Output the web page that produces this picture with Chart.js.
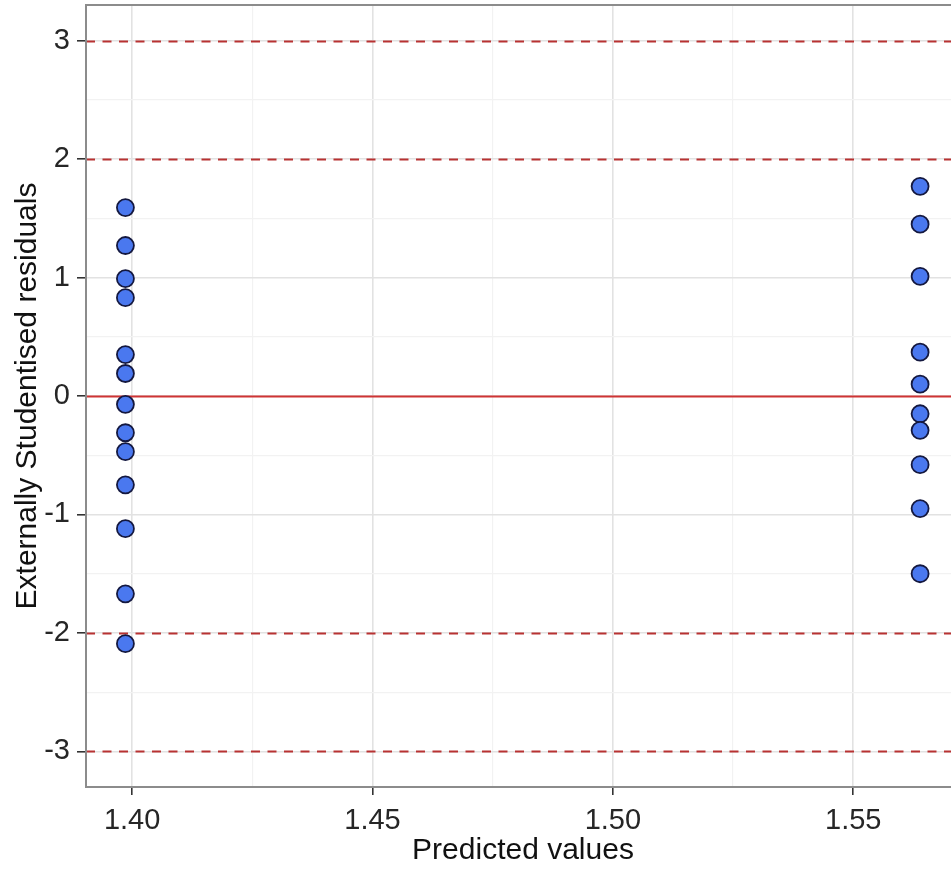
<!DOCTYPE html>
<html>
<head>
<meta charset="utf-8">
<script src="https://cdn.jsdelivr.net/npm/chart.js@4/dist/chart.umd.min.js"></script>
<style>
  html, body { margin: 0; padding: 0; overflow: hidden; background: #ffffff; }
  #wrap { width: 962px; height: 869px; }
</style>
</head>
<body>
<div id="wrap"><canvas id="resid" width="962" height="869"></canvas></div>
<script>
// Fitted values of the two groups and their externally studentised residuals
const fittedLevels = [1.3986, 1.5639];
const residualsLow = [1.59, 1.27, 0.99, 0.83, 0.35, 0.19, -0.07, -0.31, -0.47, -0.75, -1.12, -1.67, -2.09];
const residualsHigh = [1.77, 1.45, 1.01, 0.37, 0.10, -0.15, -0.29, -0.58, -0.95, -1.50];

// Axis ticks (major carry labels, minor only grid lines)
const xMajorTicks = [1.40, 1.45, 1.50, 1.55];
const xMinorTicks = [1.425, 1.475, 1.525];
const yMajorTicks = [-3, -2, -1, 0, 1, 2, 3];
const yMinorTicks = [-2.5, -1.5, -0.5, 0.5, 1.5, 2.5];

// Reference levels: solid at zero, dashed cut-offs
const zeroLevel = [0];
const cutoffLevels = [-3, -2, 2, 3];

const points = [];
residualsLow.forEach(r => points.push({ x: fittedLevels[0], y: r }));
residualsHigh.forEach(r => points.push({ x: fittedLevels[1], y: r }));

const isMajor = (v, list) => list.some(m => Math.abs(m - v) < 1e-9);
const mergeTicks = (a, b) => a.concat(b).sort((p, q) => p - q).map(v => ({ value: v }));

const FONT = "'Liberation Sans', Arial, sans-serif";

const refLines = {
  id: 'refLines',
  beforeDatasetsDraw(chart) {
    const { ctx, chartArea, scales: { y } } = chart;
    ctx.save();
    ctx.beginPath();
    ctx.rect(chartArea.left, chartArea.top, chartArea.right - chartArea.left, chartArea.bottom - chartArea.top);
    ctx.clip();
    ctx.lineWidth = 1.8;
    ctx.strokeStyle = '#b83232';
    ctx.setLineDash([9, 7.5]);
    cutoffLevels.forEach(v => {
      const py = Math.round(y.getPixelForValue(v)) + 0.5;
      ctx.beginPath();
      ctx.moveTo(chartArea.left, py);
      ctx.lineTo(chartArea.right, py);
      ctx.stroke();
    });
    ctx.setLineDash([]);
    ctx.strokeStyle = '#cf3434';
    zeroLevel.forEach(v => {
      const py = Math.round(y.getPixelForValue(v)) + 0.5;
      ctx.beginPath();
      ctx.moveTo(chartArea.left, py);
      ctx.lineTo(chartArea.right, py);
      ctx.stroke();
    });
    ctx.restore();
  },
  afterDraw(chart) {
    const { ctx, chartArea } = chart;
    ctx.save();
    ctx.lineWidth = 2;
    ctx.strokeStyle = '#8c8c8c';
    ctx.strokeRect(chartArea.left, chartArea.top, chartArea.right - chartArea.left, chartArea.bottom - chartArea.top);
    ctx.restore();
  }
};

new Chart(document.getElementById('resid'), {
  type: 'scatter',
  data: {
    datasets: [{
      data: points,
      backgroundColor: '#4a78ef',
      borderColor: '#14183f',
      borderWidth: 1.8,
      pointRadius: 8.5,
      pointHoverRadius: 8.5
    }]
  },
  options: {
    responsive: false,
    animation: false,
    devicePixelRatio: 1,
    layout: { autoPadding: false, padding: { top: 5, right: 2, left: 0, bottom: 0 } },
    plugins: { legend: { display: false }, tooltip: { enabled: false } },
    scales: {
      x: {
        type: 'linear',
        min: 1.3904,
        max: 1.5722,
        afterBuildTicks: s => { s.ticks = mergeTicks(xMajorTicks, xMinorTicks); },
        afterFit: s => { s.height = 82; s.paddingLeft = 0; s.paddingRight = 0; },
        border: { display: false },
        grid: {
          color: c => c.tick && isMajor(c.tick.value, xMajorTicks) ? '#e2e2e2' : '#f2f2f2',
          lineWidth: c => c.tick && isMajor(c.tick.value, xMajorTicks) ? 1.6 : 1.2,
          tickColor: c => c.tick && isMajor(c.tick.value, xMajorTicks) ? '#333333' : 'rgba(0,0,0,0)',
          tickWidth: 1.6,
          tickLength: 8,
          drawTicks: true
        },
        ticks: {
          autoSkip: false,
          maxRotation: 0,
          padding: 9,
          color: '#262626',
          font: { family: FONT, size: 29 },
          callback: v => isMajor(v, xMajorTicks) ? v.toFixed(2) : ''
        },
        title: {
          display: true,
          text: 'Predicted values',
          color: '#111111',
          font: { family: FONT, size: 30 },
          padding: { top: 0, bottom: 0 }
        }
      },
      y: {
        type: 'linear',
        min: -3.3,
        max: 3.3,
        afterBuildTicks: s => { s.ticks = mergeTicks(yMajorTicks, yMinorTicks); },
        afterFit: s => { s.width = 86; s.paddingTop = 0; s.paddingBottom = 0; },
        border: { display: false },
        grid: {
          color: c => c.tick && isMajor(c.tick.value, yMajorTicks) ? '#e2e2e2' : '#f2f2f2',
          lineWidth: c => c.tick && isMajor(c.tick.value, yMajorTicks) ? 1.6 : 1.2,
          tickColor: c => c.tick && isMajor(c.tick.value, yMajorTicks) ? '#333333' : 'rgba(0,0,0,0)',
          tickWidth: 1.6,
          tickLength: 9,
          drawTicks: true
        },
        ticks: {
          autoSkip: false,
          padding: 7,
          color: '#262626',
          font: { family: FONT, size: 29 },
          callback: v => isMajor(v, yMajorTicks) ? String(Math.round(v)) : ''
        },
        title: {
          display: true,
          text: 'Externally Studentised residuals',
          color: '#111111',
          font: { family: FONT, size: 30 },
          padding: { top: 10, bottom: 0 }
        }
      }
    }
  },
  plugins: [refLines]
});
</script>
</body>
</html>
